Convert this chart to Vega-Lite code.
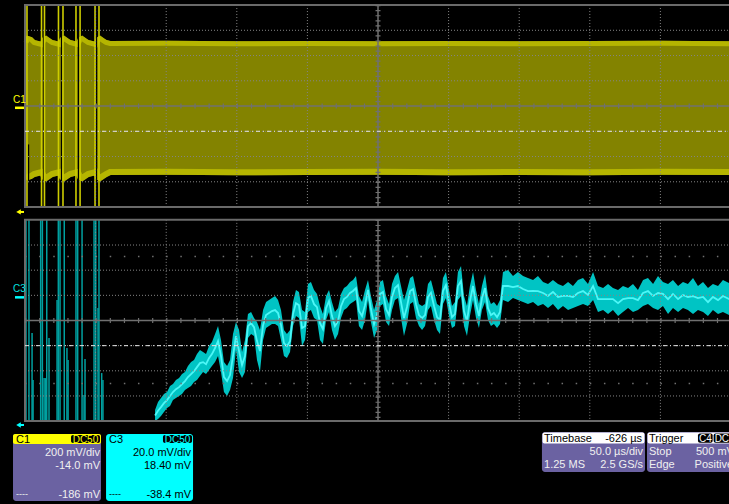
{
"$schema":"https://vega.github.io/schema/vega-lite/v6.json",
"width":729,"height":504,"padding":0,"autosize":{"type":"none"},
"background":"#000000",
"config":{"view":{"stroke":null},"text":{"font":"Liberation Sans","fontSize":11,"baseline":"alphabetic"}},
"data":{"values":[{}]},
"datasets":{
"c1":[
{"t":0.7,"max":537.0,"min":-556.1},{"t":2.1,"max":568.7,"min":-571.9},{"t":4.2,"max":560.8,"min":-564.0},{"t":6.4,"max":537.0,"min":-548.1},{"t":9.2,"max":529.1,"min":-540.2},{"t":12.0,"max":521.2,"min":-532.3},
{"t":13.5,"max":560.8,"min":-571.9},{"t":14.9,"max":568.7,"min":-579.8},{"t":17.0,"max":552.9,"min":-564.0},{"t":19.1,"max":537.0,"min":-548.1},{"t":22.0,"max":529.1,"min":-540.2},{"t":24.8,"max":521.2,"min":-532.3},
{"t":26.2,"max":560.8,"min":-571.9},{"t":27.6,"max":568.7,"min":-579.8},{"t":29.7,"max":552.9,"min":-564.0},{"t":31.9,"max":537.0,"min":-548.1},{"t":34.7,"max":529.1,"min":-540.2},{"t":37.5,"max":521.2,"min":-532.3},
{"t":39.0,"max":560.8,"min":-571.9},{"t":40.4,"max":568.7,"min":-579.8},{"t":42.5,"max":552.9,"min":-564.0},{"t":44.6,"max":537.0,"min":-548.1},{"t":47.5,"max":529.1,"min":-540.2},{"t":50.3,"max":521.2,"min":-532.3},
{"t":51.7,"max":560.8,"min":-571.9},{"t":53.1,"max":568.7,"min":-579.8},{"t":55.2,"max":552.9,"min":-564.0},{"t":57.4,"max":537.0,"min":-548.1},{"t":60.2,"max":529.1,"min":-532.3},
{"t":100,"max":531,"min":-530},{"t":150,"max":527,"min":-535},{"t":200,"max":530,"min":-533},{"t":250,"max":528,"min":-531},{"t":300,"max":530,"min":-534},{"t":350,"max":527,"min":-532},{"t":400,"max":529,"min":-535},{"t":450,"max":531,"min":-531},{"t":500,"max":528,"min":-533}
],
"c1spikes":[{"t":1.4,"top":814,"bottom":-786},{"t":11.7,"top":814,"bottom":-786},{"t":13.8,"top":814,"bottom":-786},{"t":23.7,"top":814,"bottom":-786},{"t":26.9,"top":814,"bottom":-786},{"t":36.1,"top":814,"bottom":-786},{"t":39.0,"top":814,"bottom":-786},{"t":49.6,"top":814,"bottom":-786},{"t":52.4,"top":814,"bottom":-786}],
"c1gaps":[{"t":2.5,"top":-290,"bottom":-600},{"t":13.1,"top":600,"bottom":-600},{"t":25.9,"top":600,"bottom":-600},{"t":37.9,"top":600,"bottom":-600},{"t":50.6,"top":600,"bottom":-600}],
"c3bars":[{"t":0.7,"top":61.6},{"t":2.8,"top":61.6},{"t":5.0,"top":-28.4},{"t":5.7,"top":-65.8},{"t":11.1,"top":61.6},{"t":12.3,"top":61.6},{"t":13.5,"top":-64.2},{"t":14.5,"top":-64.2},{"t":15.4,"top":61.6},{"t":17.0,"top":-32.4},{"t":22.7,"top":-2.1},{"t":23.6,"top":61.6},{"t":24.8,"top":61.6},{"t":27.8,"top":61.6},{"t":29.7,"top":-40.3},{"t":30.5,"top":-49.9},{"t":36.1,"top":61.6},{"t":37.3,"top":61.6},{"t":40.4,"top":61.6},{"t":41.8,"top":-77.7},{"t":42.5,"top":-49.1},{"t":48.9,"top":61.6},{"t":50.1,"top":61.6},{"t":51.7,"top":-8.5},{"t":52.4,"top":61.6},{"t":54.3,"top":-60.2},{"t":55.2,"top":-65.8}],
"c3":[
{"t":92.1,"max":-89.6,"min":-98.4,"mid":-94.0},{"t":94.2,"max":-83.3,"min":-96.8,"mid":-90.1},{"t":96.3,"max":-80.1,"min":-94.4,"mid":-87.3},{"t":98.4,"max":-76.9,"min":-91.2,"mid":-84.1},{"t":100.6,"max":-75.3,"min":-88.0,"mid":-81.7},{"t":102.7,"max":-70.5,"min":-86.4,"mid":-78.5},{"t":104.8,"max":-68.9,"min":-81.7,"mid":-75.3},{"t":106.9,"max":-65.8,"min":-80.1,"mid":-73.0},{"t":109.1,"max":-64.2,"min":-78.5,"mid":-71.4},{"t":111.2,"max":-61.0,"min":-76.9,"mid":-69.0},{"t":113.3,"max":-59.4,"min":-73.7,"mid":-66.6},{"t":115.4,"max":-54.6,"min":-72.1,"mid":-63.4},{"t":117.6,"max":-51.4,"min":-70.5,"mid":-61.0},{"t":119.7,"max":-49.9,"min":-67.4,"mid":-58.7},{"t":121.8,"max":-45.1,"min":-65.8,"mid":-55.5},{"t":123.9,"max":-41.9,"min":-62.6,"mid":-52.3},{"t":126.1,"max":-43.5,"min":-59.4,"mid":-51.5},{"t":128.2,"max":-45.1,"min":-61.0,"mid":-53.1},{"t":130.3,"max":-38.7,"min":-57.8,"mid":-48.3},{"t":132.4,"max":-35.5,"min":-54.6,"mid":-45.1},{"t":134.6,"max":-29.2,"min":-51.4,"mid":-40.3},{"t":136.7,"max":-22.8,"min":-46.7,"mid":-34.8},{"t":138.8,"max":-34.0,"min":-59.4,"mid":-46.7},{"t":140.9,"max":-51.4,"min":-75.3,"mid":-63.4},{"t":143.1,"max":-54.6,"min":-78.5,"mid":-66.6},{"t":145.2,"max":-49.9,"min":-73.7,"mid":-61.8},{"t":147.3,"max":-29.2,"min":-64.2,"mid":-46.7},{"t":149.4,"max":-19.6,"min":-41.9,"mid":-30.8},{"t":151.6,"max":-26.0,"min":-59.4,"mid":-42.7},{"t":153.7,"max":-43.5,"min":-64.2,"mid":-53.9},{"t":155.8,"max":-34.0,"min":-59.4,"mid":-46.7},{"t":157.9,"max":-13.3,"min":-32.4,"mid":-22.9},{"t":160.1,"max":-11.7,"min":-29.2,"mid":-20.5},{"t":162.2,"max":-16.5,"min":-30.8,"mid":-23.7},{"t":164.3,"max":-19.6,"min":-49.9,"mid":-34.8},{"t":166.4,"max":-26.0,"min":-59.4,"mid":-42.7},{"t":168.6,"max":-10.1,"min":-34.0,"mid":-22.1},{"t":170.7,"max":-3.7,"min":-24.4,"mid":-14.1},{"t":172.8,"max":-2.1,"min":-22.8,"mid":-12.5},{"t":174.9,"max":-0.6,"min":-21.2,"mid":-10.9},{"t":177.1,"max":1.0,"min":-21.2,"mid":-10.1},{"t":179.2,"max":-2.1,"min":-22.8,"mid":-12.5},{"t":181.3,"max":-10.1,"min":-34.0,"mid":-22.1},{"t":183.4,"max":-26.0,"min":-46.7,"mid":-36.4},{"t":185.5,"max":-29.2,"min":-48.3,"mid":-38.8},{"t":187.7,"max":-26.0,"min":-43.5,"mid":-34.8},{"t":189.8,"max":-3.7,"min":-22.8,"mid":-13.3},{"t":191.9,"max":5.8,"min":-14.9,"mid":-4.6},{"t":194.0,"max":4.2,"min":-16.5,"mid":-6.2},{"t":196.2,"max":-10.1,"min":-38.7,"mid":-24.4},{"t":198.3,"max":-11.7,"min":-34.0,"mid":-22.9},{"t":200.4,"max":10.6,"min":-11.7,"mid":-0.6},{"t":202.5,"max":12.2,"min":-10.1,"mid":1.1},{"t":204.7,"max":5.8,"min":-16.5,"mid":-5.4},{"t":206.8,"max":2.6,"min":-18.1,"mid":-7.8},{"t":208.9,"max":-6.9,"min":-34.0,"mid":-20.5},{"t":211.0,"max":-13.3,"min":-37.1,"mid":-25.2},{"t":213.2,"max":1.0,"min":-18.1,"mid":-8.6},{"t":215.3,"max":5.8,"min":-11.7,"mid":-3.0},{"t":217.4,"max":-3.7,"min":-26.0,"mid":-14.9},{"t":219.5,"max":-11.7,"min":-34.0,"mid":-22.9},{"t":221.7,"max":-8.5,"min":-29.2,"mid":-18.9},{"t":223.8,"max":2.6,"min":-16.5,"mid":-7.0},{"t":225.9,"max":7.4,"min":-10.1,"mid":-1.4},{"t":228.0,"max":9.0,"min":-8.5,"mid":0.3},{"t":230.2,"max":12.2,"min":-5.3,"mid":3.5},{"t":232.3,"max":13.8,"min":-3.7,"mid":5.1},{"t":234.4,"max":16.9,"min":-2.1,"mid":7.4},{"t":236.5,"max":1.0,"min":-22.8,"mid":-10.9},{"t":238.7,"max":-3.7,"min":-26.0,"mid":-14.9},{"t":240.8,"max":5.8,"min":-18.1,"mid":-6.2},{"t":242.9,"max":13.8,"min":-2.1,"mid":5.9},{"t":245.0,"max":1.0,"min":-19.6,"mid":-9.3},{"t":247.2,"max":-10.1,"min":-32.4,"mid":-21.3},{"t":249.3,"max":-2.1,"min":-26.0,"mid":-14.1},{"t":251.4,"max":12.2,"min":-6.9,"mid":2.7},{"t":253.5,"max":13.8,"min":-5.3,"mid":4.3},{"t":255.7,"max":1.0,"min":-19.6,"mid":-9.3},{"t":257.8,"max":-5.3,"min":-22.8,"mid":-14.1},{"t":259.9,"max":10.6,"min":-10.1,"mid":0.3},{"t":262.0,"max":16.9,"min":-2.1,"mid":7.4},{"t":264.2,"max":20.1,"min":-0.6,"mid":9.8},{"t":266.3,"max":9.0,"min":-16.5,"mid":-3.8},{"t":268.4,"max":-2.1,"min":-30.8,"mid":-16.5},{"t":270.5,"max":5.8,"min":-21.2,"mid":-7.7},{"t":272.7,"max":15.3,"min":-5.3,"mid":5.0},{"t":274.8,"max":16.9,"min":-3.7,"mid":6.6},{"t":276.9,"max":5.8,"min":-16.5,"mid":-5.4},{"t":279.0,"max":-5.3,"min":-22.8,"mid":-14.1},{"t":281.2,"max":-6.9,"min":-26.0,"mid":-16.5},{"t":283.3,"max":-5.3,"min":-22.8,"mid":-14.1},{"t":285.4,"max":10.6,"min":-10.1,"mid":0.3},{"t":287.5,"max":13.8,"min":-6.9,"mid":3.5},{"t":289.7,"max":4.2,"min":-18.1,"mid":-7.0},{"t":291.8,"max":-5.3,"min":-26.0,"mid":-15.7},{"t":293.9,"max":-6.9,"min":-29.2,"mid":-18.1},{"t":296.0,"max":15.3,"min":-5.3,"mid":5.0},{"t":298.1,"max":20.1,"min":-0.6,"mid":9.8},{"t":300.3,"max":5.8,"min":-14.9,"mid":-4.6},{"t":302.4,"max":-6.9,"min":-24.4,"mid":-15.7},{"t":304.5,"max":-3.7,"min":-22.8,"mid":-13.3},{"t":306.6,"max":20.1,"min":-2.1,"mid":9.0},{"t":308.8,"max":24.9,"min":1.0,"mid":13.0},{"t":310.9,"max":1.0,"min":-22.8,"mid":-10.9},{"t":313.0,"max":-6.9,"min":-30.8,"mid":-18.9},{"t":315.1,"max":9.0,"min":-14.9,"mid":-3.0},{"t":317.3,"max":20.1,"min":-2.1,"mid":9.0},{"t":319.4,"max":5.8,"min":-16.5,"mid":-5.4},{"t":321.5,"max":-5.3,"min":-24.4,"mid":-14.9},{"t":323.6,"max":9.0,"min":-10.1,"mid":-0.6},{"t":325.8,"max":18.5,"min":-3.7,"mid":7.4},{"t":327.9,"max":1.0,"min":-18.1,"mid":-8.6},{"t":330.0,"max":-5.3,"min":-22.8,"mid":-14.1},{"t":332.1,"max":-3.7,"min":-21.2,"mid":-12.5},{"t":334.3,"max":-6.9,"min":-24.4,"mid":-15.7},{"t":336.4,"max":-2.1,"min":-21.2,"mid":-11.7},{"t":338.5,"max":20.1,"min":-2.1,"mid":9.0},
{"t":342.1,"max":21.7,"min":-3.7,"mid":9.0},{"t":345.6,"max":16.9,"min":-0.6,"mid":8.2},{"t":349.1,"max":20.1,"min":-2.1,"mid":9.0},{"t":352.7,"max":16.9,"min":-3.7,"mid":6.6},{"t":356.2,"max":15.3,"min":-5.3,"mid":5.0},{"t":359.8,"max":13.8,"min":-3.7,"mid":5.1},{"t":363.3,"max":16.9,"min":-6.9,"mid":5.0},{"t":366.9,"max":12.2,"min":-5.3,"mid":3.5},{"t":370.4,"max":10.6,"min":-8.5,"mid":1.1},{"t":373.9,"max":13.8,"min":-5.3,"mid":4.3},{"t":377.5,"max":10.6,"min":-10.1,"mid":0.3},{"t":381.0,"max":9.0,"min":-6.9,"mid":1.1},{"t":384.6,"max":12.2,"min":-10.1,"mid":1.1},{"t":388.1,"max":9.0,"min":-8.5,"mid":0.3},{"t":391.6,"max":13.8,"min":-6.9,"mid":3.5},{"t":395.2,"max":15.3,"min":-5.3,"mid":5.0},{"t":398.7,"max":10.6,"min":-6.9,"mid":1.9},{"t":402.3,"max":20.1,"min":-2.1,"mid":9.0},{"t":405.8,"max":9.0,"min":-11.7,"mid":-1.4},{"t":409.4,"max":7.4,"min":-10.1,"mid":-1.4},{"t":412.9,"max":10.6,"min":-13.3,"mid":-1.4},{"t":416.4,"max":7.4,"min":-10.1,"mid":-1.4},{"t":420.0,"max":5.8,"min":-14.9,"mid":-4.6},{"t":423.5,"max":9.0,"min":-11.7,"mid":-1.4},{"t":427.1,"max":7.4,"min":-8.5,"mid":-0.6},{"t":430.6,"max":10.6,"min":-11.7,"mid":-0.6},{"t":434.1,"max":5.8,"min":-10.1,"mid":-2.2},{"t":437.7,"max":13.8,"min":-6.9,"mid":3.5},{"t":441.2,"max":15.3,"min":-5.3,"mid":5.0},{"t":444.8,"max":10.6,"min":-8.5,"mid":1.1},{"t":448.3,"max":16.9,"min":-10.1,"mid":3.4},{"t":451.8,"max":12.2,"min":-6.9,"mid":2.7},{"t":455.4,"max":10.6,"min":-13.3,"mid":-1.4},{"t":458.9,"max":13.8,"min":-8.5,"mid":2.7},{"t":462.5,"max":9.0,"min":-11.7,"mid":-1.4},{"t":466.0,"max":12.2,"min":-8.5,"mid":1.9},{"t":469.5,"max":10.6,"min":-10.1,"mid":0.3},{"t":473.1,"max":15.3,"min":-13.3,"mid":1.0},{"t":476.6,"max":9.0,"min":-10.1,"mid":-0.6},{"t":480.2,"max":12.2,"min":-11.7,"mid":0.3},{"t":483.7,"max":7.4,"min":-14.9,"mid":-3.8},{"t":487.2,"max":10.6,"min":-10.1,"mid":0.3},{"t":490.8,"max":9.0,"min":-13.3,"mid":-2.2},{"t":494.3,"max":13.8,"min":-11.7,"mid":1.1},{"t":500.0,"max":10.6,"min":-14.9,"mid":-2.2}
]
},
"layer":[
{"layer":[
{"data":{"name":"c1"},"mark":{"type":"area","color":"#838300"},"encoding":{"x":{"field":"t","type":"quantitative","scale":{"domain":[-17.71,498.58],"nice":false,"zero":false},"axis":null},"y":{"field":"max","type":"quantitative","scale":{"domain":[-3138.3,853.9],"nice":false,"zero":false},"axis":null},"y2":{"field":"min"}}},
{"data":{"name":"c1"},"mark":{"type":"line","color":"#B5B500","strokeWidth":5,"yOffset":2.5},"encoding":{"x":{"field":"t","type":"quantitative","scale":{"domain":[-17.71,498.58],"nice":false,"zero":false},"axis":null},"y":{"field":"max","type":"quantitative","scale":{"domain":[-3138.3,853.9],"nice":false,"zero":false},"axis":null}}},
{"data":{"name":"c1"},"mark":{"type":"line","color":"#B5B500","strokeWidth":6,"yOffset":-3},"encoding":{"x":{"field":"t","type":"quantitative","scale":{"domain":[-17.71,498.58],"nice":false,"zero":false},"axis":null},"y":{"field":"min","type":"quantitative","scale":{"domain":[-3138.3,853.9],"nice":false,"zero":false},"axis":null}}},
{"data":{"name":"c1gaps"},"mark":{"type":"rule","color":"#000000","strokeWidth":1.3},"encoding":{"x":{"field":"t","type":"quantitative","scale":{"domain":[-17.71,498.58],"nice":false,"zero":false},"axis":null},"y":{"field":"top","type":"quantitative","scale":{"domain":[-3138.3,853.9],"nice":false,"zero":false},"axis":null},"y2":{"field":"bottom"}}},
{"data":{"name":"c1spikes"},"mark":{"type":"rule","color":"#CDCD00","strokeWidth":1.6},"encoding":{"x":{"field":"t","type":"quantitative","scale":{"domain":[-17.71,498.58],"nice":false,"zero":false},"axis":null},"y":{"field":"top","type":"quantitative","scale":{"domain":[-3138.3,853.9],"nice":false,"zero":false},"axis":null},"y2":{"field":"bottom"}}},
{"data":{"values":[{"v":614},{"v":414},{"v":214},{"v":-186},{"v":-386},{"v":-586}]},"mark":{"type":"rule","color":"#858585","strokeWidth":1,"strokeDash":[1,2]},"encoding":{"x":{"datum":0,"type":"quantitative","scale":{"domain":[-17.71,498.58],"nice":false,"zero":false},"axis":null},"x2":{"datum":500},"y":{"field":"v","type":"quantitative","scale":{"domain":[-3138.3,853.9],"nice":false,"zero":false},"axis":null}}},
{"data":{"values":[{"g":50},{"g":100},{"g":150},{"g":200},{"g":300},{"g":350},{"g":400},{"g":450}]},"mark":{"type":"rule","color":"#858585","strokeWidth":1,"strokeDash":[1,2]},"encoding":{"x":{"field":"g","type":"quantitative","scale":{"domain":[-17.71,498.58],"nice":false,"zero":false},"axis":null},"y":{"datum":814,"type":"quantitative","scale":{"domain":[-3138.3,853.9],"nice":false,"zero":false},"axis":null},"y2":{"datum":-786}}},
{"mark":{"type":"rect","fillOpacity":0,"stroke":"#6A6A6A","strokeWidth":2},"encoding":{"x":{"datum":0,"type":"quantitative","scale":{"domain":[-17.71,498.58],"nice":false,"zero":false},"axis":null},"x2":{"datum":500},"y":{"datum":814,"type":"quantitative","scale":{"domain":[-3138.3,853.9],"nice":false,"zero":false},"axis":null},"y2":{"datum":-786}}},
{"mark":{"type":"rule","color":"#707070","strokeWidth":1.5},"encoding":{"x":{"datum":0,"type":"quantitative","scale":{"domain":[-17.71,498.58],"nice":false,"zero":false},"axis":null},"x2":{"datum":500},"y":{"datum":14,"type":"quantitative","scale":{"domain":[-3138.3,853.9],"nice":false,"zero":false},"axis":null}}},
{"mark":{"type":"rule","color":"#707070","strokeWidth":5,"strokeDash":[1.2,12.92]},"encoding":{"x":{"datum":0,"type":"quantitative","scale":{"domain":[-17.71,498.58],"nice":false,"zero":false},"axis":null},"x2":{"datum":500},"y":{"datum":14,"type":"quantitative","scale":{"domain":[-3138.3,853.9],"nice":false,"zero":false},"axis":null}}},
{"mark":{"type":"rule","color":"#707070","strokeWidth":1.5},"encoding":{"x":{"datum":250,"type":"quantitative","scale":{"domain":[-17.71,498.58],"nice":false,"zero":false},"axis":null},"y":{"datum":814,"type":"quantitative","scale":{"domain":[-3138.3,853.9],"nice":false,"zero":false},"axis":null},"y2":{"datum":-786}}},
{"mark":{"type":"rule","color":"#707070","strokeWidth":5,"strokeDash":[1.2,3.85]},"encoding":{"x":{"datum":250,"type":"quantitative","scale":{"domain":[-17.71,498.58],"nice":false,"zero":false},"axis":null},"y":{"datum":814,"type":"quantitative","scale":{"domain":[-3138.3,853.9],"nice":false,"zero":false},"axis":null},"y2":{"datum":-786}}},
{"mark":{"type":"rule","color":"#E6E6E6","strokeWidth":1,"strokeDash":[4,3,1,3]},"encoding":{"x":{"datum":0,"type":"quantitative","scale":{"domain":[-17.71,498.58],"nice":false,"zero":false},"axis":null},"x2":{"datum":500},"y":{"datum":-186,"type":"quantitative","scale":{"domain":[-3138.3,853.9],"nice":false,"zero":false},"axis":null}}},
{"mark":{"type":"rule","color":"#FFFF00","strokeWidth":2.5},"encoding":{"x":{"datum":-7.1,"type":"quantitative","scale":{"domain":[-17.71,498.58],"nice":false,"zero":false},"axis":null},"x2":{"datum":-0.7},"y":{"datum":0,"type":"quantitative","scale":{"domain":[-3138.3,853.9],"nice":false,"zero":false},"axis":null}}},
{"mark":{"type":"text","text":"C1","align":"left","color":"#FFFF00","fontSize":10},"encoding":{"x":{"datum":-8.5,"type":"quantitative","scale":{"domain":[-17.71,498.58],"nice":false,"zero":false},"axis":null},"y":{"datum":38,"type":"quantitative","scale":{"domain":[-3138.3,853.9],"nice":false,"zero":false},"axis":null}}},
{"mark":{"type":"rule","color":"#FFFF00","strokeWidth":2},"encoding":{"x":{"datum":-4.5,"type":"quantitative","scale":{"domain":[-17.71,498.58],"nice":false,"zero":false},"axis":null},"x2":{"datum":-0.7},"y":{"datum":-825,"type":"quantitative","scale":{"domain":[-3138.3,853.9],"nice":false,"zero":false},"axis":null}}},
{"mark":{"type":"point","shape":"triangle-left","filled":true,"color":"#FFFF00","size":28,"opacity":1},"encoding":{"x":{"datum":-4.6,"type":"quantitative","scale":{"domain":[-17.71,498.58],"nice":false,"zero":false},"axis":null},"y":{"datum":-825,"type":"quantitative","scale":{"domain":[-3138.3,853.9],"nice":false,"zero":false},"axis":null}}}
]},
{"layer":[
{"data":{"name":"c3bars"},"mark":{"type":"rule","color":"#00A0A0","strokeWidth":1.5},"encoding":{"x":{"field":"t","type":"quantitative","scale":{"domain":[-17.71,498.58],"nice":false,"zero":false},"axis":null},"y":{"field":"top","type":"quantitative","scale":{"domain":[-164.3,236.4],"nice":false,"zero":false},"axis":null},"y2":{"datum":-98.4}}},
{"data":{"name":"c3"},"mark":{"type":"area","color":"#00C4C4"},"encoding":{"x":{"field":"t","type":"quantitative","scale":{"domain":[-17.71,498.58],"nice":false,"zero":false},"axis":null},"y":{"field":"max","type":"quantitative","scale":{"domain":[-164.3,236.4],"nice":false,"zero":false},"axis":null},"y2":{"field":"min"}}},
{"data":{"name":"c3"},"mark":{"type":"line","color":"#4DF7F7","strokeWidth":1.8},"encoding":{"x":{"field":"t","type":"quantitative","scale":{"domain":[-17.71,498.58],"nice":false,"zero":false},"axis":null},"y":{"field":"mid","type":"quantitative","scale":{"domain":[-164.3,236.4],"nice":false,"zero":false},"axis":null}}},
{"data":{"values":[{"v":41.6},{"v":21.6},{"v":1.6},{"v":-38.4},{"v":-58.4},{"v":-78.4}]},"mark":{"type":"rule","color":"#858585","strokeWidth":1,"strokeDash":[1,2]},"encoding":{"x":{"datum":0,"type":"quantitative","scale":{"domain":[-17.71,498.58],"nice":false,"zero":false},"axis":null},"x2":{"datum":500},"y":{"field":"v","type":"quantitative","scale":{"domain":[-164.3,236.4],"nice":false,"zero":false},"axis":null}}},
{"data":{"values":[{"v":32.4},{"v":-68.4}]},"mark":{"type":"rule","color":"#707070","strokeWidth":1.5,"strokeDash":[1.5,12.62]},"encoding":{"x":{"datum":0,"type":"quantitative","scale":{"domain":[-17.71,498.58],"nice":false,"zero":false},"axis":null},"x2":{"datum":500},"y":{"field":"v","type":"quantitative","scale":{"domain":[-164.3,236.4],"nice":false,"zero":false},"axis":null}}},
{"data":{"values":[{"g":50},{"g":100},{"g":150},{"g":200},{"g":300},{"g":350},{"g":400},{"g":450}]},"mark":{"type":"rule","color":"#858585","strokeWidth":1,"strokeDash":[1,2]},"encoding":{"x":{"field":"g","type":"quantitative","scale":{"domain":[-17.71,498.58],"nice":false,"zero":false},"axis":null},"y":{"datum":61.6,"type":"quantitative","scale":{"domain":[-164.3,236.4],"nice":false,"zero":false},"axis":null},"y2":{"datum":-98.4}}},
{"mark":{"type":"rect","fillOpacity":0,"stroke":"#6A6A6A","strokeWidth":2},"encoding":{"x":{"datum":0,"type":"quantitative","scale":{"domain":[-17.71,498.58],"nice":false,"zero":false},"axis":null},"x2":{"datum":500},"y":{"datum":61.6,"type":"quantitative","scale":{"domain":[-164.3,236.4],"nice":false,"zero":false},"axis":null},"y2":{"datum":-98.4}}},
{"mark":{"type":"rule","color":"#707070","strokeWidth":1.5},"encoding":{"x":{"datum":0,"type":"quantitative","scale":{"domain":[-17.71,498.58],"nice":false,"zero":false},"axis":null},"x2":{"datum":500},"y":{"datum":-18.4,"type":"quantitative","scale":{"domain":[-164.3,236.4],"nice":false,"zero":false},"axis":null}}},
{"mark":{"type":"rule","color":"#707070","strokeWidth":5,"strokeDash":[1.2,12.92]},"encoding":{"x":{"datum":0,"type":"quantitative","scale":{"domain":[-17.71,498.58],"nice":false,"zero":false},"axis":null},"x2":{"datum":500},"y":{"datum":-18.4,"type":"quantitative","scale":{"domain":[-164.3,236.4],"nice":false,"zero":false},"axis":null}}},
{"mark":{"type":"rule","color":"#707070","strokeWidth":1.5},"encoding":{"x":{"datum":250,"type":"quantitative","scale":{"domain":[-17.71,498.58],"nice":false,"zero":false},"axis":null},"y":{"datum":61.6,"type":"quantitative","scale":{"domain":[-164.3,236.4],"nice":false,"zero":false},"axis":null},"y2":{"datum":-98.4}}},
{"mark":{"type":"rule","color":"#707070","strokeWidth":5,"strokeDash":[1.2,3.85]},"encoding":{"x":{"datum":250,"type":"quantitative","scale":{"domain":[-17.71,498.58],"nice":false,"zero":false},"axis":null},"y":{"datum":61.6,"type":"quantitative","scale":{"domain":[-164.3,236.4],"nice":false,"zero":false},"axis":null},"y2":{"datum":-98.4}}},
{"mark":{"type":"rule","color":"#E6E6E6","strokeWidth":1,"strokeDash":[4,3,1,3]},"encoding":{"x":{"datum":0,"type":"quantitative","scale":{"domain":[-17.71,498.58],"nice":false,"zero":false},"axis":null},"x2":{"datum":500},"y":{"datum":-38.4,"type":"quantitative","scale":{"domain":[-164.3,236.4],"nice":false,"zero":false},"axis":null}}},
{"mark":{"type":"rule","color":"#00FFFF","strokeWidth":2.5},"encoding":{"x":{"datum":-7.1,"type":"quantitative","scale":{"domain":[-17.71,498.58],"nice":false,"zero":false},"axis":null},"x2":{"datum":-0.7},"y":{"datum":0,"type":"quantitative","scale":{"domain":[-164.3,236.4],"nice":false,"zero":false},"axis":null}}},
{"mark":{"type":"text","text":"C3","align":"left","color":"#00E0E0","fontSize":10},"encoding":{"x":{"datum":-8.5,"type":"quantitative","scale":{"domain":[-17.71,498.58],"nice":false,"zero":false},"axis":null},"y":{"datum":4.2,"type":"quantitative","scale":{"domain":[-164.3,236.4],"nice":false,"zero":false},"axis":null}}},
{"mark":{"type":"rule","color":"#00FFFF","strokeWidth":2},"encoding":{"x":{"datum":-4.5,"type":"quantitative","scale":{"domain":[-17.71,498.58],"nice":false,"zero":false},"axis":null},"x2":{"datum":-0.7},"y":{"datum":-101.5,"type":"quantitative","scale":{"domain":[-164.3,236.4],"nice":false,"zero":false},"axis":null}}},
{"mark":{"type":"point","shape":"triangle-left","filled":true,"color":"#00FFFF","size":28,"opacity":1},"encoding":{"x":{"datum":-4.6,"type":"quantitative","scale":{"domain":[-17.71,498.58],"nice":false,"zero":false},"axis":null},"y":{"datum":-101.5,"type":"quantitative","scale":{"domain":[-164.3,236.4],"nice":false,"zero":false},"axis":null}}},

{"mark":{"type":"rect","color":"#6B62A2","cornerRadius":3},"encoding":{"x":{"datum":-8.5,"type":"quantitative","scale":{"domain":[-17.71,498.58],"nice":false,"zero":false},"axis":null},"x2":{"datum":53.8},"y":{"datum":-108.6,"type":"quantitative","scale":{"domain":[-164.3,236.4],"nice":false,"zero":false},"axis":null},"y2":{"datum":-161.9}}},
{"mark":{"type":"rect","color":"#FFFF00","cornerRadius":2},"encoding":{"x":{"datum":-8.5,"type":"quantitative","scale":{"domain":[-17.71,498.58],"nice":false,"zero":false},"axis":null},"x2":{"datum":53.8},"y":{"datum":-108.6,"type":"quantitative","scale":{"domain":[-164.3,236.4],"nice":false,"zero":false},"axis":null},"y2":{"datum":-116.6}}},
{"mark":{"type":"rect","color":"#000000","cornerRadius":2},"encoding":{"x":{"datum":32.6,"type":"quantitative","scale":{"domain":[-17.71,498.58],"nice":false,"zero":false},"axis":null},"x2":{"datum":53.1},"y":{"datum":-109.4,"type":"quantitative","scale":{"domain":[-164.3,236.4],"nice":false,"zero":false},"axis":null},"y2":{"datum":-115.8}}},
{"mark":{"type":"text","text":"C1","align":"left","color":"#000000"},"encoding":{"x":{"datum":-6.4,"type":"quantitative","scale":{"domain":[-17.71,498.58],"nice":false,"zero":false},"axis":null},"y":{"datum":-115.8,"type":"quantitative","scale":{"domain":[-164.3,236.4],"nice":false,"zero":false},"axis":null}}},
{"mark":{"type":"text","text":"DC50","align":"center","color":"#FFFF00","fontSize":10},"encoding":{"x":{"datum":42.8,"type":"quantitative","scale":{"domain":[-17.71,498.58],"nice":false,"zero":false},"axis":null},"y":{"datum":-115.6,"type":"quantitative","scale":{"domain":[-164.3,236.4],"nice":false,"zero":false},"axis":null}}},
{"mark":{"type":"text","text":"200 mV/div","align":"right","color":"#F0F0F0"},"encoding":{"x":{"datum":53.1,"type":"quantitative","scale":{"domain":[-17.71,498.58],"nice":false,"zero":false},"axis":null},"y":{"datum":-126.1,"type":"quantitative","scale":{"domain":[-164.3,236.4],"nice":false,"zero":false},"axis":null}}},
{"mark":{"type":"text","text":"-14.0 mV","align":"right","color":"#F0F0F0"},"encoding":{"x":{"datum":53.1,"type":"quantitative","scale":{"domain":[-17.71,498.58],"nice":false,"zero":false},"axis":null},"y":{"datum":-136.5,"type":"quantitative","scale":{"domain":[-164.3,236.4],"nice":false,"zero":false},"axis":null}}},
{"mark":{"type":"text","text":"-186 mV","align":"right","color":"#F0F0F0"},"encoding":{"x":{"datum":53.1,"type":"quantitative","scale":{"domain":[-17.71,498.58],"nice":false,"zero":false},"axis":null},"y":{"datum":-159.5,"type":"quantitative","scale":{"domain":[-164.3,236.4],"nice":false,"zero":false},"axis":null}}},
{"mark":{"type":"text","text":"----","align":"left","color":"#F0F0F0","fontSize":9},"encoding":{"x":{"datum":-6.4,"type":"quantitative","scale":{"domain":[-17.71,498.58],"nice":false,"zero":false},"axis":null},"y":{"datum":-158.7,"type":"quantitative","scale":{"domain":[-164.3,236.4],"nice":false,"zero":false},"axis":null}}},

{"mark":{"type":"rect","color":"#00FFFF","cornerRadius":3},"encoding":{"x":{"datum":57.4,"type":"quantitative","scale":{"domain":[-17.71,498.58],"nice":false,"zero":false},"axis":null},"x2":{"datum":119.0},"y":{"datum":-108.6,"type":"quantitative","scale":{"domain":[-164.3,236.4],"nice":false,"zero":false},"axis":null},"y2":{"datum":-161.9}}},
{"mark":{"type":"rect","color":"#000000","cornerRadius":2},"encoding":{"x":{"datum":97.7,"type":"quantitative","scale":{"domain":[-17.71,498.58],"nice":false,"zero":false},"axis":null},"x2":{"datum":118.3},"y":{"datum":-109.4,"type":"quantitative","scale":{"domain":[-164.3,236.4],"nice":false,"zero":false},"axis":null},"y2":{"datum":-115.8}}},
{"mark":{"type":"text","text":"C3","align":"left","color":"#000000"},"encoding":{"x":{"datum":59.5,"type":"quantitative","scale":{"domain":[-17.71,498.58],"nice":false,"zero":false},"axis":null},"y":{"datum":-115.8,"type":"quantitative","scale":{"domain":[-164.3,236.4],"nice":false,"zero":false},"axis":null}}},
{"mark":{"type":"text","text":"DC50","align":"center","color":"#00FFFF","fontSize":10},"encoding":{"x":{"datum":108.0,"type":"quantitative","scale":{"domain":[-17.71,498.58],"nice":false,"zero":false},"axis":null},"y":{"datum":-115.6,"type":"quantitative","scale":{"domain":[-164.3,236.4],"nice":false,"zero":false},"axis":null}}},
{"mark":{"type":"text","text":"20.0 mV/div","align":"right","color":"#000000"},"encoding":{"x":{"datum":117.6,"type":"quantitative","scale":{"domain":[-17.71,498.58],"nice":false,"zero":false},"axis":null},"y":{"datum":-126.1,"type":"quantitative","scale":{"domain":[-164.3,236.4],"nice":false,"zero":false},"axis":null}}},
{"mark":{"type":"text","text":"18.40 mV","align":"right","color":"#000000"},"encoding":{"x":{"datum":117.6,"type":"quantitative","scale":{"domain":[-17.71,498.58],"nice":false,"zero":false},"axis":null},"y":{"datum":-136.5,"type":"quantitative","scale":{"domain":[-164.3,236.4],"nice":false,"zero":false},"axis":null}}},
{"mark":{"type":"text","text":"-38.4 mV","align":"right","color":"#000000"},"encoding":{"x":{"datum":117.6,"type":"quantitative","scale":{"domain":[-17.71,498.58],"nice":false,"zero":false},"axis":null},"y":{"datum":-159.5,"type":"quantitative","scale":{"domain":[-164.3,236.4],"nice":false,"zero":false},"axis":null}}},
{"mark":{"type":"text","text":"----","align":"left","color":"#000000","fontSize":9},"encoding":{"x":{"datum":59.5,"type":"quantitative","scale":{"domain":[-17.71,498.58],"nice":false,"zero":false},"axis":null},"y":{"datum":-158.7,"type":"quantitative","scale":{"domain":[-164.3,236.4],"nice":false,"zero":false},"axis":null}}},

{"mark":{"type":"rect","color":"#6B62A2","cornerRadius":3},"encoding":{"x":{"datum":366.1,"type":"quantitative","scale":{"domain":[-17.71,498.58],"nice":false,"zero":false},"axis":null},"x2":{"datum":439.1},"y":{"datum":-107.1,"type":"quantitative","scale":{"domain":[-164.3,236.4],"nice":false,"zero":false},"axis":null},"y2":{"datum":-138.9}}},
{"mark":{"type":"rect","color":"#FFFFFF","cornerRadius":2},"encoding":{"x":{"datum":366.5,"type":"quantitative","scale":{"domain":[-17.71,498.58],"nice":false,"zero":false},"axis":null},"x2":{"datum":438.7},"y":{"datum":-107.5,"type":"quantitative","scale":{"domain":[-164.3,236.4],"nice":false,"zero":false},"axis":null},"y2":{"datum":-116.2}}},
{"mark":{"type":"text","text":"Timebase","align":"left","color":"#000000"},"encoding":{"x":{"datum":367.6,"type":"quantitative","scale":{"domain":[-17.71,498.58],"nice":false,"zero":false},"axis":null},"y":{"datum":-115.0,"type":"quantitative","scale":{"domain":[-164.3,236.4],"nice":false,"zero":false},"axis":null}}},
{"mark":{"type":"text","text":"-626 µs","align":"right","color":"#000000"},"encoding":{"x":{"datum":437.0,"type":"quantitative","scale":{"domain":[-17.71,498.58],"nice":false,"zero":false},"axis":null},"y":{"datum":-115.0,"type":"quantitative","scale":{"domain":[-164.3,236.4],"nice":false,"zero":false},"axis":null}}},
{"mark":{"type":"text","text":"50.0 µs/div","align":"right","color":"#F0F0F0"},"encoding":{"x":{"datum":437.7,"type":"quantitative","scale":{"domain":[-17.71,498.58],"nice":false,"zero":false},"axis":null},"y":{"datum":-125.3,"type":"quantitative","scale":{"domain":[-164.3,236.4],"nice":false,"zero":false},"axis":null}}},
{"mark":{"type":"text","text":"1.25 MS","align":"left","color":"#F0F0F0"},"encoding":{"x":{"datum":367.6,"type":"quantitative","scale":{"domain":[-17.71,498.58],"nice":false,"zero":false},"axis":null},"y":{"datum":-135.7,"type":"quantitative","scale":{"domain":[-164.3,236.4],"nice":false,"zero":false},"axis":null}}},
{"mark":{"type":"text","text":"2.5 GS/s","align":"right","color":"#F0F0F0"},"encoding":{"x":{"datum":437.7,"type":"quantitative","scale":{"domain":[-17.71,498.58],"nice":false,"zero":false},"axis":null},"y":{"datum":-135.7,"type":"quantitative","scale":{"domain":[-164.3,236.4],"nice":false,"zero":false},"axis":null}}},

{"mark":{"type":"rect","color":"#6B62A2","cornerRadius":3},"encoding":{"x":{"datum":440.5,"type":"quantitative","scale":{"domain":[-17.71,498.58],"nice":false,"zero":false},"axis":null},"x2":{"datum":505},"y":{"datum":-107.1,"type":"quantitative","scale":{"domain":[-164.3,236.4],"nice":false,"zero":false},"axis":null},"y2":{"datum":-138.9}}},
{"mark":{"type":"rect","color":"#FFFFFF","cornerRadius":2},"encoding":{"x":{"datum":440.9,"type":"quantitative","scale":{"domain":[-17.71,498.58],"nice":false,"zero":false},"axis":null},"x2":{"datum":505},"y":{"datum":-107.5,"type":"quantitative","scale":{"domain":[-164.3,236.4],"nice":false,"zero":false},"axis":null},"y2":{"datum":-116.2}}},
{"mark":{"type":"rect","color":"#000000","cornerRadius":2},"encoding":{"x":{"datum":476.6,"type":"quantitative","scale":{"domain":[-17.71,498.58],"nice":false,"zero":false},"axis":null},"x2":{"datum":487.0},"y":{"datum":-108.2,"type":"quantitative","scale":{"domain":[-164.3,236.4],"nice":false,"zero":false},"axis":null},"y2":{"datum":-115.6}}},
{"mark":{"type":"rect","color":"#000000","cornerRadius":2},"encoding":{"x":{"datum":487.7,"type":"quantitative","scale":{"domain":[-17.71,498.58],"nice":false,"zero":false},"axis":null},"x2":{"datum":505},"y":{"datum":-108.2,"type":"quantitative","scale":{"domain":[-164.3,236.4],"nice":false,"zero":false},"axis":null},"y2":{"datum":-115.6}}},
{"mark":{"type":"text","text":"Trigger","align":"left","color":"#000000"},"encoding":{"x":{"datum":441.9,"type":"quantitative","scale":{"domain":[-17.71,498.58],"nice":false,"zero":false},"axis":null},"y":{"datum":-115.0,"type":"quantitative","scale":{"domain":[-164.3,236.4],"nice":false,"zero":false},"axis":null}}},
{"mark":{"type":"text","text":"C4","align":"center","color":"#FFFFFF","fontSize":10},"encoding":{"x":{"datum":481.8,"type":"quantitative","scale":{"domain":[-17.71,498.58],"nice":false,"zero":false},"axis":null},"y":{"datum":-115.0,"type":"quantitative","scale":{"domain":[-164.3,236.4],"nice":false,"zero":false},"axis":null}}},
{"mark":{"type":"text","text":"DC","align":"left","color":"#FFFFFF","fontSize":10},"encoding":{"x":{"datum":488.4,"type":"quantitative","scale":{"domain":[-17.71,498.58],"nice":false,"zero":false},"axis":null},"y":{"datum":-115.0,"type":"quantitative","scale":{"domain":[-164.3,236.4],"nice":false,"zero":false},"axis":null}}},
{"mark":{"type":"text","text":"Stop","align":"left","color":"#F0F0F0"},"encoding":{"x":{"datum":441.9,"type":"quantitative","scale":{"domain":[-17.71,498.58],"nice":false,"zero":false},"axis":null},"y":{"datum":-125.3,"type":"quantitative","scale":{"domain":[-164.3,236.4],"nice":false,"zero":false},"axis":null}}},
{"mark":{"type":"text","text":"500 mV","align":"left","color":"#F0F0F0"},"encoding":{"x":{"datum":475.2,"type":"quantitative","scale":{"domain":[-17.71,498.58],"nice":false,"zero":false},"axis":null},"y":{"datum":-125.3,"type":"quantitative","scale":{"domain":[-164.3,236.4],"nice":false,"zero":false},"axis":null}}},
{"mark":{"type":"text","text":"Edge","align":"left","color":"#F0F0F0"},"encoding":{"x":{"datum":441.9,"type":"quantitative","scale":{"domain":[-17.71,498.58],"nice":false,"zero":false},"axis":null},"y":{"datum":-135.7,"type":"quantitative","scale":{"domain":[-164.3,236.4],"nice":false,"zero":false},"axis":null}}},
{"mark":{"type":"text","text":"Positive","align":"left","color":"#F0F0F0"},"encoding":{"x":{"datum":474.2,"type":"quantitative","scale":{"domain":[-17.71,498.58],"nice":false,"zero":false},"axis":null},"y":{"datum":-135.7,"type":"quantitative","scale":{"domain":[-164.3,236.4],"nice":false,"zero":false},"axis":null}}}
]}
],
"resolve":{"scale":{"y":"independent"}}
}
